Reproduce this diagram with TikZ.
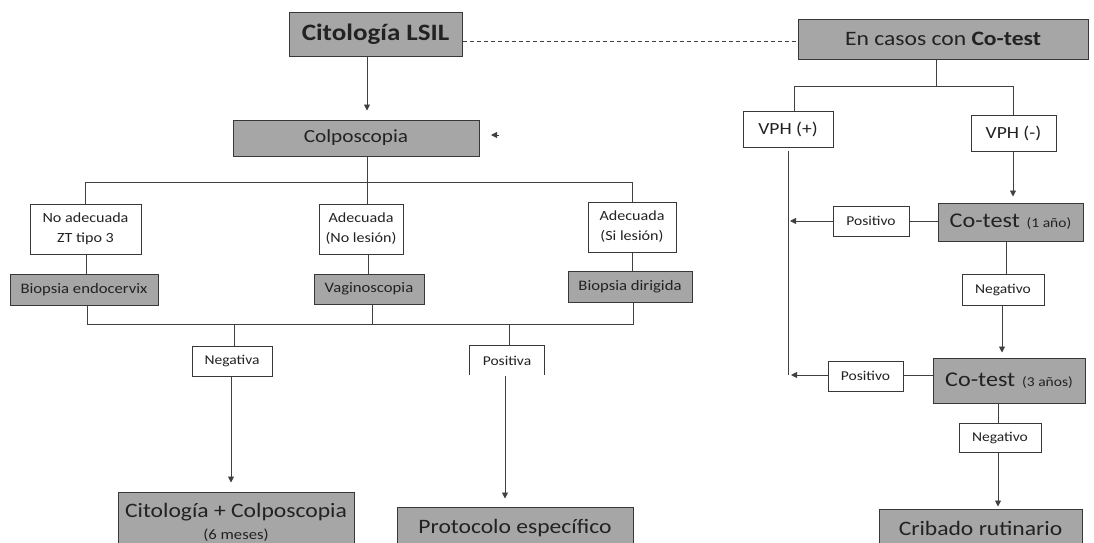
\documentclass[tikz,border=0pt]{standalone}
\usepackage{fontspec}
\setmainfont{Carlito}[FakeStretch=1.15]
\usetikzlibrary{arrows.meta}
\definecolor{boxgray}{HTML}{A6A6A6}
\definecolor{ink}{HTML}{222222}
\definecolor{edge}{HTML}{383838}
\definecolor{wire}{HTML}{404040}
\newcommand\fsz[1]{\fontsize{#1}{#1}\selectfont}

\begin{document}
\begin{tikzpicture}[x=1pt,y=-1pt,
  wbox/.style={draw=edge,line width=1pt,fill=white,inner sep=0pt,text=ink},
  gbox/.style={draw=edge,line width=1pt,fill=boxgray,inner sep=0pt,text=ink},
  bare/.style={inner sep=0pt,text=ink},
  wire/.style={draw=wire,line width=0.9pt},
  arr/.style={wire,-{Triangle[length=6pt,width=6pt]}},
  two/.style={align=center,font=\fontsize{14}{20}\selectfont}]
\clip (0,0) rectangle (1094,542);
\fill[white] (0,0) rectangle (1094,542);

% ---------- left branch: colposcopy ----------
\node[gbox,minimum width=173pt,minimum height=44pt,font=\fsz{23.5}\bfseries] (lsil) at (375.5,34) {Citología LSIL};
\node[gbox,minimum width=290pt,minimum height=40pt,font=\fsz{20.5}] (en) at (943,39) {En casos con \textbf{Co-test}};
\node[gbox,minimum width=246pt,minimum height=36pt,font=\fsz{18.5}] (colp) at (356,138) {Colposcopia};

\node[wbox,two,minimum width=111pt,minimum height=50pt] (noad) at (85.5,229) {No adecuada\\ZT tipo 3};
\node[wbox,two,minimum width=84pt,minimum height=50pt] (adno) at (361,229) {Adecuada\\(No lesión)};
\node[wbox,two,minimum width=88pt,minimum height=50pt] (adsi) at (632,227) {Adecuada\\(Si lesión)};

\node[gbox,minimum width=148pt,minimum height=31pt,font=\fsz{14.5}] (bend) at (84,289.5) {Biopsia endocervix};
\node[gbox,minimum width=110pt,minimum height=30pt,font=\fsz{14.5}] (vag) at (369,289) {Vaginoscopia};
\node[gbox,minimum width=124pt,minimum height=31pt,font=\fsz{14.5}] (bdir) at (630,286.5) {Biopsia dirigida};

\node[wbox,minimum width=80pt,minimum height=30pt,font=\fsz{13.5}] (nega) at (232,361) {Negativa};
\node[bare,minimum width=74pt,minimum height=29pt,font=\fsz{13.5}] (posa) at (507,360.5) {Positiva};
\draw[draw=edge,line width=1pt] (posa.south west) -- (posa.north west) -- (posa.north east) -- (posa.south east);

\node[gbox,minimum width=236pt,minimum height=63pt] (citcol) at (236,523.5) {};
\node[bare,font=\fsz{20.5}] (citcolA) at (236,512) {Citología + Colposcopia};
\node[bare,font=\fsz{14.5}] (citcolB) at (236,535) {(6 meses)};
\node[gbox,minimum width=236pt,minimum height=42pt,font=\fsz{20.5}] (proto) at (515,528) {Protocolo específico};

% ---------- right branch: co-test ----------
\node[wbox,minimum width=90pt,minimum height=36pt,font=\fsz{17}] (vphp) at (788,129) {VPH (+)};
\node[wbox,minimum width=85pt,minimum height=36pt,font=\fsz{17}] (vphm) at (1013.5,133) {VPH (-)};
\node[wbox,minimum width=76pt,minimum height=30pt,font=\fsz{13.5}] (pos1) at (871,221) {Positivo};
\node[gbox,minimum width=145pt,minimum height=38pt] (ct1) at (1010.5,222) {{\fsz{21}Co-test}\ \ \,{\fsz{13.5}(1 año)}};
\node[wbox,minimum width=82pt,minimum height=31pt,font=\fsz{13.5}] (neg1) at (1003,289.5) {Negativo};
\node[wbox,minimum width=75pt,minimum height=30pt,font=\fsz{13.5}] (pos3) at (865.5,376) {Positivo};
\node[gbox,minimum width=152pt,minimum height=45pt] (ct3) at (1009,380.5) {{\fsz{21}Co-test}\ \ \,{\fsz{13.5}(3 años)}};
\node[wbox,minimum width=82pt,minimum height=29pt,font=\fsz{13.5}] (neg3) at (1000,437.5) {Negativo};
\node[gbox,minimum width=203pt,minimum height=38pt,font=\fsz{20.5}] (crib) at (980.5,528) {Cribado rutinario};

% ---------- connectors ----------
\draw[wire,dashed,dash pattern=on 4pt off 3pt] (lsil.east |- 0,41) -- (en.west |- 0,41);
\draw[arr,shorten >=9pt] (lsil.south -| 367,0) -- (colp.north -| 367,0);
\coordinate (stray) at (499,135);
\draw[arr] (stray) -- ++(-8,0);

% colposcopy fan-out
\coordinate (topL) at (85,182);
\coordinate (topR) at (632,182);
\draw[wire] (colp.south -| 367,0) -- (367,182);
\draw[wire] (noad.north -| topL) -- (topL) -- (topR) -- (adsi.north -| topR);
\draw[wire] (367,182) -- (adno.north -| 367,0);
\draw[wire] (noad.south -| 86,0) -- (bend.north -| 86,0);
\draw[wire] (adno.south -| 368,0) -- (vag.north -| 368,0);
\draw[wire] (adsi.south -| 632,0) -- (bdir.north -| 632,0);

% biopsy fan-in
\coordinate (botL) at (87,324);
\coordinate (botR) at (633,324);
\draw[wire] (bend.south -| botL) -- (botL) -- (botR) -- (bdir.south -| botR);
\draw[wire] (vag.south -| 372,0) -- (372,324);
\draw[wire] (234,324) -- (nega.north -| 234,0);
\draw[wire] (509,324) -- (posa.north -| 509,0);
\draw[arr,shorten >=9pt] (nega.south -| 231,0) -- (citcol.north -| 231,0);
\draw[arr,shorten >=8pt] (505,376) -- (proto.north -| 505,0);

% co-test fan-out
\coordinate (vL) at (794,86);
\coordinate (vR) at (1013,86);
\draw[wire] (en.south -| 936,0) -- (936,86);
\draw[wire] (vphp.north -| vL) -- (vL) -- (vR) -- (vphm.north -| vR);
\draw[arr,shorten >=6pt] (vphm.south -| 1013,0) -- (ct1.north -| 1013,0);

% positive results return to the VPH (+) line
\coordinate (rail) at (788,375);
\draw[wire] (788,151) -- (rail);
\draw[wire] (ct1.west |- pos1.east) -- (pos1.east);
\draw[arr] (pos1.west) -- (790,221);
\draw[wire] (ct3.west |- 0,375) -- (pos3.east |- 0,375);
\draw[arr] (pos3.west |- 0,375) -- (791,375);

% negative results
\draw[wire] (ct1.south -| 1006,0) -- (neg1.north -| 1006,0);
\draw[arr,shorten >=5pt] (neg1.south -| 1002,0) -- (ct3.north -| 1002,0);
\draw[wire] (ct3.south -| 998,0) -- (neg3.north -| 998,0);
\draw[arr,shorten >=2pt] (neg3.south -| 998,0) -- (crib.north -| 998,0);
\end{tikzpicture}
\end{document}
